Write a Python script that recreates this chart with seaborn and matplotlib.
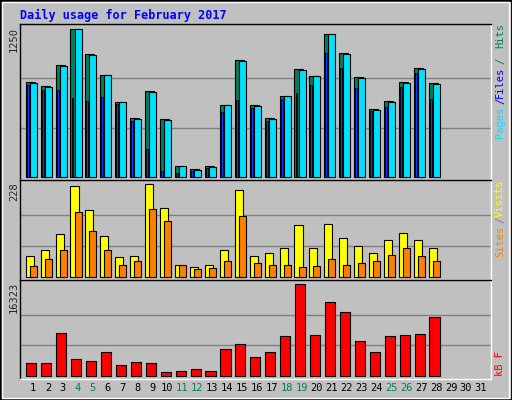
import matplotlib
matplotlib.use("Agg")
import matplotlib.pyplot as plt
import seaborn as sns
import numpy as np

sns.set_style("white")
plt.rcParams['font.family'] = ['DejaVu Sans Mono']

days = list(range(1, 32))
hits = [800, 766, 945, 1250, 1038, 860, 631, 495, 724, 486, 88, 62, 88, 605, 987, 605, 495, 682, 911, 851, 1208, 1046, 843, 571, 639, 800, 919, 792]
files = [791, 757, 936, 1250, 1029, 860, 631, 486, 715, 477, 88, 54, 80, 605, 978, 597, 486, 682, 902, 851, 1208, 1038, 834, 563, 631, 791, 911, 783]
pages = [774, 735, 735, 665, 639, 673, 614, 469, 237, 45, 28, 45, 71, 546, 648, 580, 469, 656, 707, 774, 1046, 919, 750, 554, 588, 757, 876, 656]
visits = [50, 67, 105, 223, 164, 100, 48, 50, 228, 169, 28, 23, 30, 67, 213, 50, 58, 70, 127, 70, 129, 95, 75, 58, 90, 109, 90, 72]
sites = [26, 43, 65, 159, 112, 67, 30, 38, 166, 137, 28, 18, 21, 40, 151, 33, 28, 30, 23, 26, 45, 28, 35, 38, 53, 70, 50, 40]
kbytes = [2204, 2204, 7565, 2919, 2562, 4170, 1847, 2383, 2204, 596, 774, 1132, 774, 4706, 5600, 3276, 4170, 7029, 16323, 7208, 13105, 11318, 6136, 4170, 7029, 7208, 7387, 10425]
weekend = [4, 5, 11, 12, 18, 19, 25, 26]

BG = "#C0C0C0"
fig = plt.figure(figsize=(5.12, 4.0), dpi=100, facecolor=BG)
# outer frame
fig.add_artist(plt.Rectangle((0, 0), 1, 1, transform=fig.transFigure, fill=False, ec="black", lw=2))
fig.add_artist(plt.Rectangle((0.004, 0.005), 0.99, 0.99, transform=fig.transFigure, fill=False, ec="white", lw=1))

L, W = 20/512, 471/512
def mkax(top, bot):
    ax = fig.add_axes([L, 1-bot/400, W, (bot-top)/400])
    ax.set_facecolor(BG)
    ax.set_xlim(0.13, 31.67)
    ax.set_xticks([]); ax.set_yticks([])
    for s in ["left", "top"]:
        ax.spines[s].set_color("black")
    for s in ["right", "bottom"]:
        ax.spines[s].set_color("white")
    for sp in ax.spines.values():
        sp.set_linewidth(1)
    return ax

d = np.arange(1, len(hits)+1)
ax1 = mkax(24, 180)
ax1.set_ylim(-28, 1295)
for g in [1250/3, 2*1250/3]:
    ax1.axhline(g, color="#808080", lw=1, zorder=0)
ax1.bar(d-0.49, hits, width=0.6, align="edge", color="#00805C", ec="black", lw=0.8, zorder=2)
ax1.bar(d-0.22, files, width=0.47, align="edge", color="#00E0FF", ec="black", lw=0.8, zorder=3)
ax1.bar(d-0.42, pages, width=0.13, align="edge", color="#0040FF", ec="black", lw=0.6, zorder=4)

ax2 = mkax(180, 280)
ax2.set_ylim(-8, 238.6)
for g in [76, 152]:
    ax2.axhline(g, color="#808080", lw=1, zorder=0)
ax2.bar(d-0.49, visits, width=0.54, align="edge", color="#FFFF00", ec="black", lw=0.8, zorder=2)
ax2.bar(d-0.22, sites, width=0.47, align="edge", color="#FF8000", ec="black", lw=0.8, zorder=3)

ax3 = mkax(280, 378.7)
ax3.set_ylim(-536, 17091)
for g in [16323/3, 2*16323/3]:
    ax3.axhline(g, color="#808080", lw=1, zorder=0)
ax3.bar(d-0.45, kbytes, width=0.68, align="edge", color="#FF0000", ec="black", lw=0.8, zorder=2)

# day labels
for day in days:
    x = L + W*(day-0.13)/(31.67-0.13)
    fig.text(x, 1-388/400, str(day), ha="center", va="center", fontsize=7.5,
             color="#00805C" if day in weekend else "black")

fig.text(20/512, 1-15/400, "Daily usage for February 2017", color="#0000FF",
         fontsize=8.5, fontweight="bold", ha="left", va="center")
fig.text(14/512, 1-40/400, "1250", rotation=90, fontsize=7.5, ha="center", va="center")
fig.text(14/512, 1-192/400, "228", rotation=90, fontsize=7.5, ha="center", va="center")
fig.text(14/512, 1-297/400, "16323", rotation=90, fontsize=7.5, ha="center", va="center")

def vtext(y, s, c):
    fig.text(500/512, 1-y/400, s, rotation=90, fontsize=7.5, color=c, ha="center", va="bottom")
vtext(138, "Pages", "#00E0FF")
vtext(104, "/", "#0000FF")
vtext(98, "Files", "#0000FF")
vtext(64, "/", "#00805C")
vtext(48, "Hits", "#00805C")
vtext(257, "Sites", "#FF8000")
vtext(223, "/", "#808080")
vtext(217, "Visits", "#FFFF00")
vtext(376, "kB F", "#FF0000")

fig.savefig("out.png", dpi=100, facecolor=BG)
